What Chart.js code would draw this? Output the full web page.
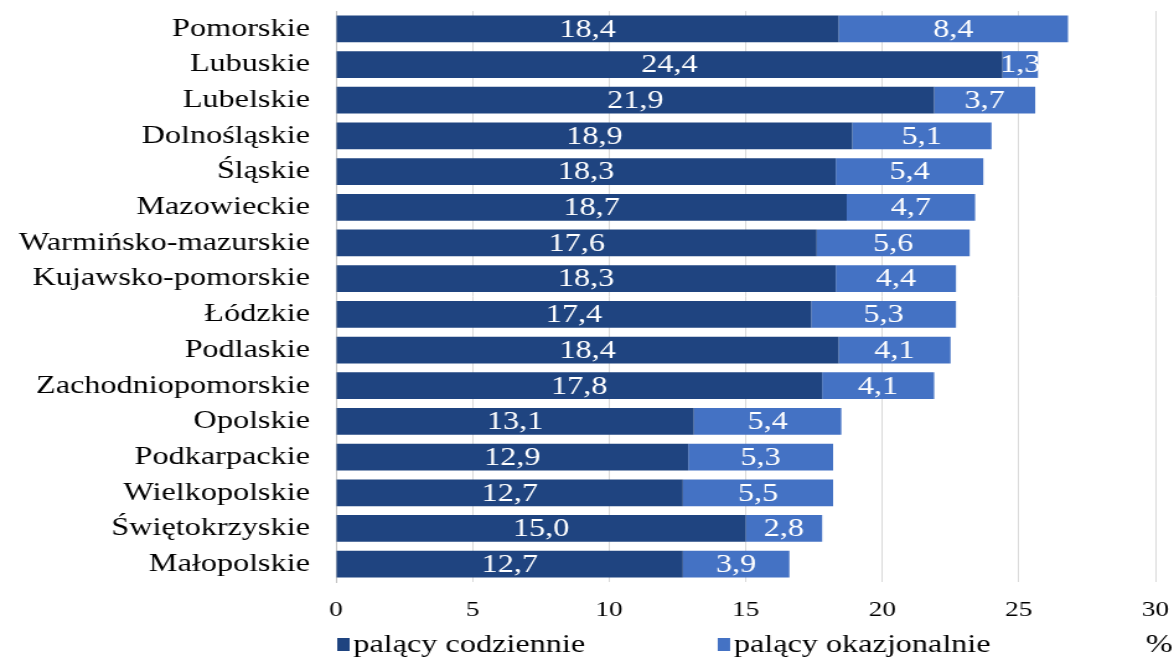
<!DOCTYPE html>
<html>
<head>
<meta charset="utf-8">
<script src="https://cdn.jsdelivr.net/npm/chart.js@4.4.1/dist/chart.umd.min.js"></script>
<style>
  html, body { margin: 0; padding: 0; background: #fff; overflow: hidden; }
  #wrap { width: 947px; height: 658px; transform: scaleX(1.2397); transform-origin: 0 0; }
</style>
</head>
<body>
<div id="wrap"><canvas id="chart" width="947" height="658"></canvas></div>
<script>
const wojewodztwa = [
  "Pomorskie", "Lubuskie", "Lubelskie", "Dolnośląskie", "Śląskie", "Mazowieckie",
  "Warmińsko-mazurskie", "Kujawsko-pomorskie", "Łódzkie", "Podlaskie",
  "Zachodniopomorskie", "Opolskie", "Podkarpackie", "Wielkopolskie",
  "Świętokrzyskie", "Małopolskie"
];
const codziennie = [18.4, 24.4, 21.9, 18.9, 18.3, 18.7, 17.6, 18.3, 17.4, 18.4, 17.8, 13.1, 12.9, 12.7, 15.0, 12.7];
const okazjonalnie = [8.4, 1.3, 3.7, 5.1, 5.4, 4.7, 5.6, 4.4, 5.3, 4.1, 4.1, 5.4, 5.3, 5.5, 2.8, 3.9];
const xTicks = [0, 5, 10, 15, 20, 25, 30];

const FONT = '"Liberation Serif", "Times New Roman", serif';
const ciemny = "#1f4480";
const jasny = "#4472c4";

function fmt(v) {
  return v.toFixed(1).replace(".", ",");
}

// etykiety wartości w środku słupków
const etykiety = {
  id: "etykiety",
  afterDatasetsDraw(chart) {
    const c = chart.ctx;
    c.save();
    c.font = "26px " + FONT;
    c.fillStyle = "#ffffff";
    c.textAlign = "center";
    c.textBaseline = "middle";
    chart.data.datasets.forEach((ds, i) => {
      chart.getDatasetMeta(i).data.forEach((bar, j) => {
        c.fillText(fmt(ds.data[j]), (bar.x + bar.base) / 2, bar.y + 1);
      });
    });
    c.restore();
  }
};

// legenda na dole + jednostka
const legenda = {
  id: "legenda",
  afterDraw(chart) {
    const c = chart.ctx;
    const a = chart.chartArea;
    c.save();
    c.font = "26px " + FONT;
    c.textBaseline = "alphabetic";
    c.textAlign = "left";
    let x = a.left + 1;
    chart.data.datasets.forEach(ds => {
      c.fillStyle = ds.backgroundColor;
      c.fillRect(x, 638, 10, 13);
      c.fillStyle = "#000";
      c.fillText(ds.label, x + 13, 652);
      x += 13 + c.measureText(ds.label).width + 107;
    });
    c.textAlign = "center";
    c.fillText("%", a.right + 3, 652);
    c.restore();
  }
};

new Chart(document.getElementById("chart").getContext("2d"), {
  type: "bar",
  data: {
    labels: wojewodztwa,
    datasets: [
      { label: "palący codziennie", data: codziennie, backgroundColor: ciemny },
      { label: "palący okazjonalnie", data: okazjonalnie, backgroundColor: jasny }
    ]
  },
  options: {
    indexAxis: "y",
    responsive: false,
    animation: false,
    layout: { padding: { top: 11, right: 15, bottom: 34, left: 0 } },
    datasets: { bar: { categoryPercentage: 1, barPercentage: 0.75 } },
    plugins: {
      legend: { display: false },
      tooltip: { enabled: false }
    },
    scales: {
      x: {
        stacked: true,
        min: 0,
        max: 30,
        afterBuildTicks: s => { s.ticks = xTicks.map(v => ({ value: v })); },
        afterFit: s => { s.height = 42; s.paddingLeft = 0; s.paddingRight = 0; },
        grid: { color: "#d9d9d9", lineWidth: 1, drawTicks: false },
        border: { display: false },
        ticks: { color: "#000", padding: 15, maxRotation: 0, font: { family: FONT, size: 22 } }
      },
      y: {
        stacked: true,
        afterFit: s => { s.width = 271; s.paddingTop = 0; s.paddingBottom = 0; },
        grid: { display: false, drawTicks: false },
        border: { display: true, color: "#bfbfbf" },
        ticks: { color: "#000", padding: 21, autoSkip: false, font: { family: FONT, size: 26 } }
      }
    }
  },
  plugins: [etykiety, legenda]
});
</script>
</body>
</html>
